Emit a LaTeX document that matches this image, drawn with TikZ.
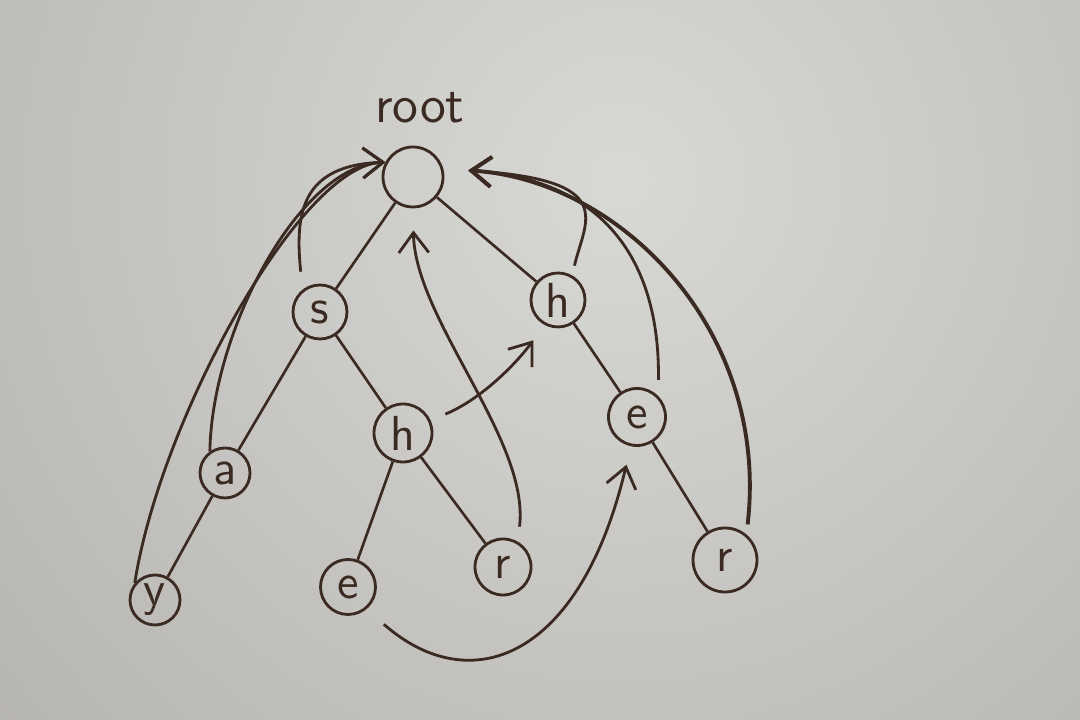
\documentclass[tikz,border=0pt]{standalone}
\usepackage{tikz}
\usetikzlibrary{arrows.meta}
\definecolor{ink}{RGB}{58,42,34}
\definecolor{paperlight}{RGB}{216,216,213}
\definecolor{paperdark}{RGB}{152,148,144}
\tikzstyle{trienode} = [circle, draw=ink, line width=0.8pt, minimum size=0.54cm, inner sep=0pt, text=ink, font=\sffamily\fontsize{14}{16}\selectfont]
\tikzstyle{link} = [draw=ink, line width=0.75pt]
\tikzstyle{faillink} = [draw=ink, line width=0.8pt, -{Straight Barb[length=2mm,width=3mm]}]

\begin{document}
\begin{tikzpicture}
\useasboundingbox (0,0) rectangle (10.8,7.2);

% Paper
\begin{scope}
\clip (0,0) rectangle (10.8,7.2);
\fill[paperdark] (0,0) rectangle (10.8,7.2);
\shade[inner color=paperlight, outer color=paperdark] (6.2,5.4) circle (16);
\end{scope}

% Trie nodes
\node[trienode, minimum size=0.6cm] (root) at (4.13,5.43) {};
\node[text=ink, font=\sffamily\fontsize{15}{18}\selectfont] (rootlabel) at (4.20,6.12) {root};
\node[trienode] (s) at (3.20,4.08) {s};
\node[trienode] (h) at (5.58,4.20) {h};
\node[trienode, minimum size=0.5cm] (sa) at (2.25,2.47) {a};
\node[trienode, minimum size=0.58cm] (sh) at (4.03,2.87) {h};
\node[trienode, minimum size=0.57cm] (he) at (6.37,3.03) {e};
\node[trienode, minimum size=0.5cm] (say) at (1.55,1.20) {y};
\node[trienode, minimum size=0.55cm] (she) at (3.48,1.33) {e};
\node[trienode, minimum size=0.56cm] (shr) at (5.03,1.53) {r};
\node[trienode, minimum size=0.64cm] (her) at (7.25,1.60) {r};

% Trie edges
\draw[link] (root) -- (s);
\draw[link] (root) -- (h);
\draw[link] (s) -- (sa);
\draw[link] (s) -- (sh);
\draw[link] (sa) -- (say);
\draw[link] (sh) -- (she);
\draw[link] (sh) -- (shr);
\draw[link] (h) -- (he);
\draw[link] (he) -- (her);

% Failure links into root, left side
\draw[faillink, shorten <=1.8mm] (s.128) .. controls (2.95,5.05) and (3.00,5.55) .. (root.152);
\draw[faillink] (sa.125) .. controls (2.12,3.90) and (3.00,5.55) .. (root.152);
\draw[faillink] (say.140) .. controls (1.60,3.00) and (3.00,5.55) .. (root.152);

% Failure links into root, right side
\draw[faillink, shorten <=1mm, shorten >=2.5mm] (h.60) .. controls (5.85,5.00) and (6.20,5.40) .. (root.15);
\draw[faillink, shorten <=1.6mm, shorten >=2.5mm] (he.45) .. controls (6.60,4.40) and (6.20,5.40) .. (root.15);
\draw[faillink, line width=1.1pt, shorten <=1mm, shorten >=2.5mm] (her.50) .. controls (7.70,3.90) and (6.20,5.40) .. (root.15);

% Remaining failure links
\draw[faillink, shorten <=1.5mm, shorten >=2.2mm] (shr.60) .. controls (5.30,2.80) and (4.15,4.00) .. (root.south);
\draw[faillink, shorten <=1.6mm, shorten >=1.9mm] (sh.25) .. controls (4.80,3.20) and (5.15,3.55) .. (h.242);
\draw[faillink, shorten <=2.3mm, shorten >=1.9mm] (she.310) .. controls (4.70,0.20) and (5.80,0.60) .. (he.258);
\end{tikzpicture}
\end{document}
